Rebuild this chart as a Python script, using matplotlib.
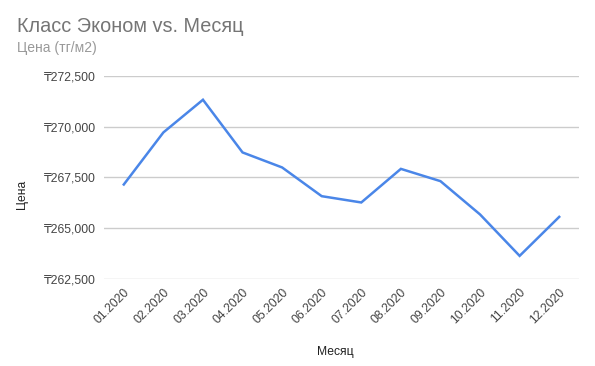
import matplotlib
matplotlib.use("Agg")
import matplotlib.pyplot as plt
from matplotlib.ticker import FuncFormatter

plt.rcParams['font.family'] = ['Liberation Sans', 'DejaVu Sans']

months = ["01.2020", "02.2020", "03.2020", "04.2020", "05.2020", "06.2020",
          "07.2020", "08.2020", "09.2020", "10.2020", "11.2020", "12.2020"]
prices = [267155, 269720, 271330, 268735, 267995, 266580,
          266270, 267925, 267320, 265680, 263640, 265560]
yticks = [262500, 265000, 267500, 270000, 272500]

title = "Класс Эконом vs. Месяц"
subtitle = "Цена (тг/м2)"
xlabel = "Месяц"
ylabel = "Цена"

W, H = 595, 366
fig = plt.figure(figsize=(W / 100, H / 100), dpi=100)
ax = fig.add_axes([104 / W, 1 - 279 / H, (579 - 104) / W, (279 - 76) / H])

x = list(range(len(months)))
ax.plot(x, prices, color="#4a86e8", linewidth=1.8, solid_joinstyle="miter")

ax.set_xlim(-0.5, len(months) - 0.5)
ax.set_ylim(yticks[0], yticks[-1])
ax.set_yticks(yticks)
ax.yaxis.set_major_formatter(FuncFormatter(lambda v, p: "₸{:,.0f}".format(v)))
ax.set_xticks(x)
ax.set_xticklabels(months, rotation=45, ha="right", rotation_mode="anchor")

ax.grid(axis="y", color="#cccccc", linewidth=1)
ax.set_axisbelow(True)
for s in ax.spines.values():
    s.set_visible(False)
ax.tick_params(axis="both", length=0, colors="#444444", labelsize=8.7)
ax.tick_params(axis="y", pad=6)
ax.tick_params(axis="x", pad=5)

ax.set_xlabel(xlabel, fontsize=8.7, color="#222222")
ax.xaxis.set_label_coords((335 - 104) / (579 - 104), (279 - 346) / (279 - 76))
ax.set_ylabel(ylabel, fontsize=8.7, color="#222222")
ax.yaxis.set_label_coords((28 - 104) / (579 - 104), (279 - 194) / (279 - 76))

fig.text(17 / W, 1 - 26 / H, title, fontsize=14.3, color="#757575", va="center", ha="left")
fig.text(17 / W, 1 - 48 / H, subtitle, fontsize=10, color="#999999", va="center", ha="left")

fig.savefig("out.png", dpi=100, facecolor="white")
